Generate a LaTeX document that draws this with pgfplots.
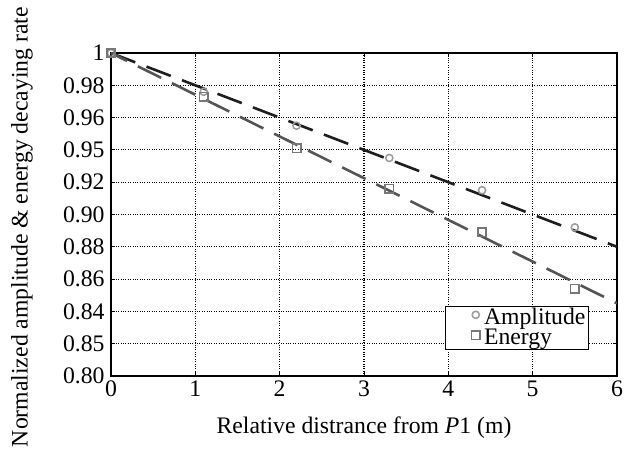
\documentclass[border=0pt]{standalone}
\usepackage{fontspec}
\setmainfont{Liberation Serif}
\usepackage{pgfplots}
\pgfplotsset{compat=1.18}
\definecolor{ampline}{HTML}{1E1E1E}
\definecolor{enline}{HTML}{555555}
\definecolor{ampmark}{HTML}{9A9A9A}
\definecolor{enmark}{HTML}{777777}
\begin{document}
\begin{tikzpicture}
\begin{axis}[
  scale only axis, width=506bp, height=323bp,
  xmin=0, xmax=6, ymin=0.80, ymax=1.00,
  xtick={0,1,2,3,4,5,6},
  ytick={0.80,0.82,0.84,0.86,0.88,0.90,0.92,0.94,0.96,0.98,1.00},
  yticklabels={0.80,0.85,0.84,0.86,0.88,0.90,0.92,0.95,0.96,0.98,1},
  /pgf/number format/assume math mode=true,
  grid=major,
  major grid style={black, dotted, line width=1.2bp},
  axis line style={black, line width=1.2bp},
  tick style={black, line width=0.8bp},
  tick align=inside,
  major tick length=4bp,
  ticklabel style={font=\fontsize{23.7bp}{24bp}\selectfont},
  xticklabel style={yshift=-1bp},
  yticklabel style={xshift=-3bp},
  label style={font=\fontsize{23.7bp}{24bp}\selectfont},
  xlabel={Relative distrance from \textit{P}1 (m)},
  xlabel style={at={(axis description cs:0.5,-0.161)}, anchor=center},
  ylabel={Normalized amplitude \& energy decaying rate},
  ylabel style={at={(axis description cs:-0.176,0.461)}, anchor=center},
  legend style={at={(rel axis cs:0.9447,0.0805)}, anchor=south east, draw=black, line width=1.2bp,
    font=\fontsize{23.7bp}{24bp}\selectfont, inner sep=1bp,
    cells={anchor=west, text height=15bp, text depth=3bp}},
  legend cell align=left,
  legend image code/.code={\draw[#1] plot coordinates {(1.0cm,0.1cm)}; \path (0cm,0cm) (1.2cm,0cm);},
]
\addplot[ampline, line width=2.6bp, dash pattern=on 26bp off 12bp, forget plot] coordinates {(0,1.0) (6,0.880)};
\addplot[enline, line width=2.6bp, dash pattern=on 26bp off 12bp, dash phase=8bp, forget plot] coordinates {(0,1.0) (6,0.845)};
\addplot[only marks, mark=o, mark size=3.6bp, ampmark, mark options={line width=1.5bp}] coordinates {
 (0,1.0) (1.1,0.976) (2.2,0.955) (3.3,0.935) (4.4,0.915) (5.5,0.892)};
\addlegendentry{Amplitude}
\addplot[only marks, mark=square, mark size=4.2bp, enmark, mark options={line width=1.6bp}] coordinates {
 (0,1.0) (1.1,0.973) (2.2,0.941) (3.3,0.916) (4.4,0.889) (5.5,0.854)};
\addlegendentry{Energy}
\end{axis}
\pgfresetboundingbox
\path (current axis.south west) ++(-111bp,-76bp) rectangle ++(624bp,452bp);
\end{tikzpicture}
\end{document}
